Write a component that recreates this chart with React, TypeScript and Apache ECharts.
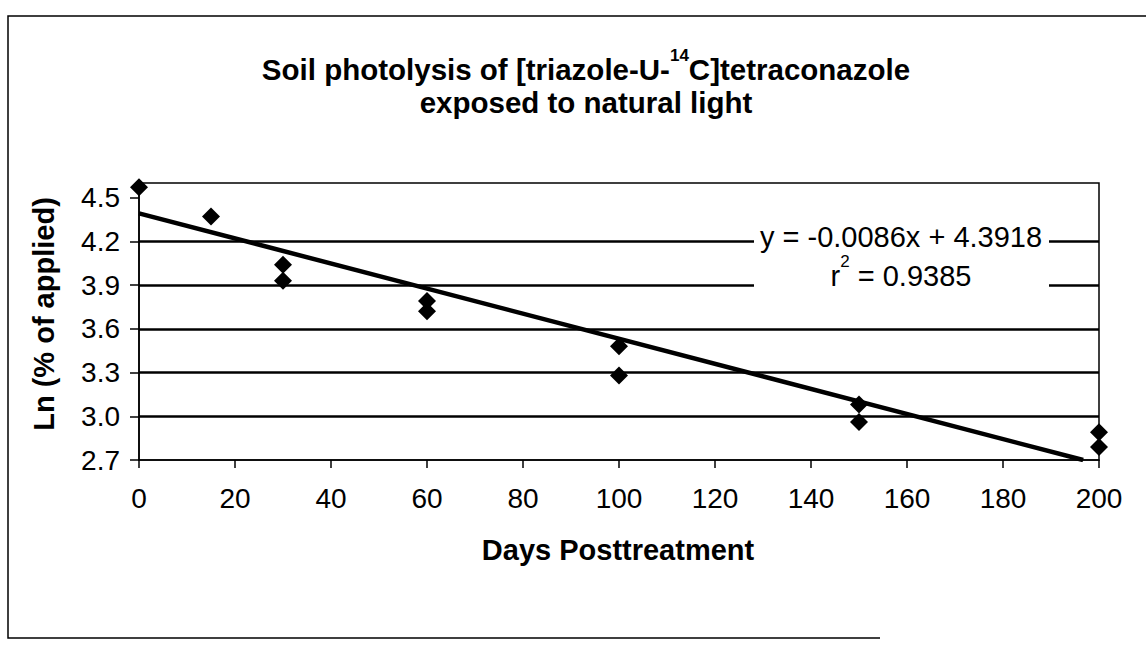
import React, { useEffect, useRef } from "react";
import * as echarts from "echarts";

const days = [0, 15, 30, 30, 60, 60, 100, 100, 150, 150, 200, 200];
const lnApplied = [4.57, 4.37, 4.04, 3.93, 3.79, 3.72, 3.48, 3.28, 3.08, 2.96, 2.89, 2.79];
const trendDays = [0, 196.7];
const trendLn = [4.3918, 2.7];
const yTicks = [2.7, 3.0, 3.3, 3.6, 3.9, 4.2, 4.5];
const xTicks = [0, 20, 40, 60, 80, 100, 120, 140, 160, 180, 200];

const FONT = "'Liberation Sans', Arial, Helvetica, sans-serif";

export default function App() {
  const ref = useRef<HTMLDivElement>(null);
  useEffect(() => {
    if (!ref.current) return;
    const chart = echarts.init(ref.current, null, { renderer: "svg" });
    const points = days.map((d, i) => [d, lnApplied[i]]);
    const trend = trendDays.map((d, i) => [d, trendLn[i]]);
    chart.setOption({
      animation: false,
      backgroundColor: "#fff",
      textStyle: { fontFamily: FONT, color: "#000" },
      grid: {
        left: 139,
        right: 47,
        top: 183,
        bottom: 194,
        show: true,
        borderColor: "#000",
        borderWidth: 1.5,
        backgroundColor: "transparent",
      },
      xAxis: {
        type: "value",
        min: 0,
        max: 200,
        interval: 20,
        axisLine: { show: true, lineStyle: { color: "#000", width: 1.5 } },
        axisTick: { show: true, inside: false, length: 8, lineStyle: { color: "#000", width: 1.5 }, customValues: xTicks },
        axisLabel: { fontSize: 28, color: "#000", fontFamily: FONT, margin: 24, customValues: xTicks },
        splitLine: { show: false },
      },
      yAxis: {
        type: "value",
        min: 2.7,
        max: 4.6,
        interval: 0.3,
        axisLine: { show: true, lineStyle: { color: "#000", width: 1.5 } },
        axisTick: { show: true, inside: false, length: 9, lineStyle: { color: "#000", width: 1.5 }, customValues: yTicks },
        axisLabel: {
          fontSize: 28,
          color: "#000",
          fontFamily: FONT,
          margin: 19,
          customValues: yTicks,
          formatter: (v: number) => v.toFixed(1),
        },
        splitLine: {
          show: true,
          showMinLine: false,
          showMaxLine: false,
          lineStyle: { color: "#000", width: 2.5 },
        },
      },
      series: [
        {
          type: "line",
          data: trend,
          symbol: "none",
          clip: true,
          lineStyle: { color: "#000", width: 4.5 },
          z: 3,
        },
        {
          type: "scatter",
          data: points,
          symbol: "diamond",
          symbolSize: 18,
          clip: false,
          itemStyle: { color: "#000", opacity: 1 },
          z: 4,
        },
      ],
      graphic: [
        {
          type: "polyline",
          z: 50,
          shape: { points: [[1146, 16], [8, 16], [8, 638], [880, 638]] },
          style: { stroke: "#000", lineWidth: 1.5, fill: null },
        },
        {
          type: "text",
          z: 50,
          x: 586,
          y: 47,
          style: {
            text: "{t1|Soil photolysis of [triazole-U-}{sup|14}{t1|C]tetraconazole}\n{t2|exposed to natural light}",
            align: "center",
            verticalAlign: "top",
            fill: "#000",
            rich: {
              t1: { fontSize: 29.5, fontWeight: "bold", fontFamily: FONT, lineHeight: 44, verticalAlign: "middle", fill: "#000" },
              sup: { fontSize: 17, fontWeight: "bold", fontFamily: FONT, lineHeight: 12, verticalAlign: "top", fill: "#000" },
              t2: { fontSize: 29.5, fontWeight: "bold", fontFamily: FONT, lineHeight: 22, verticalAlign: "middle", fill: "#000" },
            },
          },
        },
        {
          type: "text",
          z: 50,
          x: 44,
          y: 314,
          rotation: Math.PI / 2,
          style: {
            text: "Ln (% of applied)",
            align: "center",
            verticalAlign: "middle",
            fontSize: 29,
            fontWeight: "bold",
            fontFamily: FONT,
            fill: "#000",
          },
        },
        {
          type: "text",
          z: 50,
          x: 618,
          y: 550,
          style: {
            text: "Days Posttreatment",
            align: "center",
            verticalAlign: "middle",
            fontSize: 29,
            fontWeight: "bold",
            fontFamily: FONT,
            fill: "#000",
          },
        },
        {
          type: "rect",
          z: 100,
          shape: { x: 754, y: 216, width: 295, height: 82 },
          style: { fill: "#fff", stroke: null },
        },
        {
          type: "text",
          z: 101,
          x: 901,
          y: 221,
          style: {
            text: "{e1|y = -0.0086x + 4.3918}\n{e2|r}{sq|2}{e2| = 0.9385}",
            align: "center",
            verticalAlign: "top",
            fill: "#000",
            rich: {
              e1: { fontSize: 29, fontFamily: FONT, lineHeight: 32, verticalAlign: "middle", fill: "#000" },
              e2: { fontSize: 29, fontFamily: FONT, lineHeight: 46, verticalAlign: "middle", fill: "#000" },
              sq: { fontSize: 17, fontFamily: FONT, lineHeight: 14, verticalAlign: "top", fill: "#000" },
            },
          },
        },
      ],
    });
    return () => chart.dispose();
  }, []);
  return (
    <div
      ref={ref}
      style={{ position: "fixed", left: 0, top: 0, width: 1146, height: 654, background: "#fff" }}
    />
  );
}
